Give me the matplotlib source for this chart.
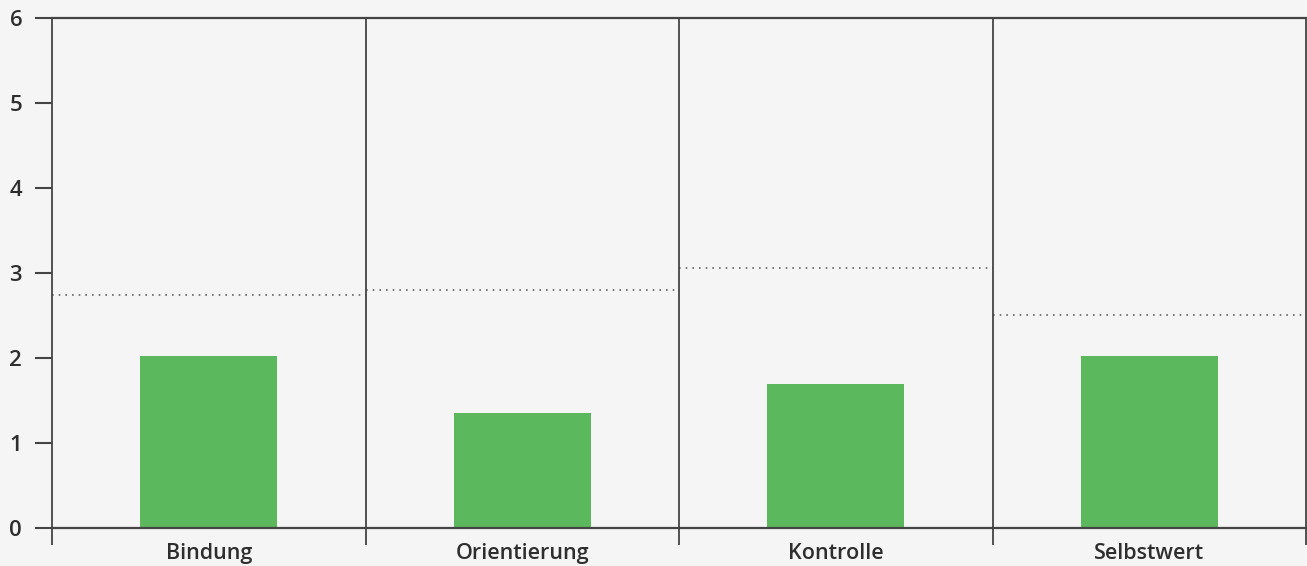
import numpy as np
import matplotlib.pyplot as plt

# Data
categories = ["Bindung", "Orientierung", "Kontrolle", "Selbstwert"]
values = [2.02, 1.35, 1.69, 2.02]
reference = [2.74, 2.80, 3.06, 2.51]
y_ticks = [0, 1, 2, 3, 4, 5, 6]

plt.rcParams['font.family'] = ['Open Sans', 'DejaVu Sans']

bg = "#f5f5f5"
line_col = "#444444"
text_col = "#2e2e2e"

fig = plt.figure(figsize=(13.07, 5.66), dpi=100, facecolor=bg)
ax = fig.add_axes([52/1307, 1 - 528/566, 1254/1307, 510/566])
ax.set_facecolor(bg)

x = np.arange(len(categories)) + 0.5
ax.bar(x, values, width=0.437, color="#5cb85c", zorder=2)

# dotted reference line per category
for i, r in enumerate(reference):
    ax.hlines(r, i, i + 1, colors="#666666", linestyles=(0, (1, 3)), linewidth=1.2, zorder=3)

# category separators
for b in range(len(categories) + 1):
    ax.axvline(b, color=line_col, linewidth=1.3, zorder=4, clip_on=False)

ax.set_xlim(0, len(categories))
ax.set_ylim(0, 6)

for s in ["left", "right"]:
    ax.spines[s].set_visible(False)
for s in ["top", "bottom"]:
    ax.spines[s].set_color(line_col)
    ax.spines[s].set_linewidth(1.6)
    ax.spines[s].set_zorder(5)

ax.set_yticks(y_ticks)
ax.tick_params(axis="y", length=12.5, width=1.5, color=line_col, pad=9,
               labelsize=16, labelcolor=text_col)
for lbl in ax.get_yticklabels():
    lbl.set_fontweight("semibold")

ax.set_xticks(range(len(categories) + 1))
ax.set_xticklabels([])
ax.tick_params(axis="x", which="major", length=12.5, width=1.3, color=line_col)
ax.set_xticks(x, minor=True)
ax.set_xticklabels(categories, minor=True, fontsize=15.5, fontweight="semibold", color=text_col)
ax.tick_params(axis="x", which="minor", length=0, pad=11)

fig.savefig("out.png", dpi=100, facecolor=bg)
